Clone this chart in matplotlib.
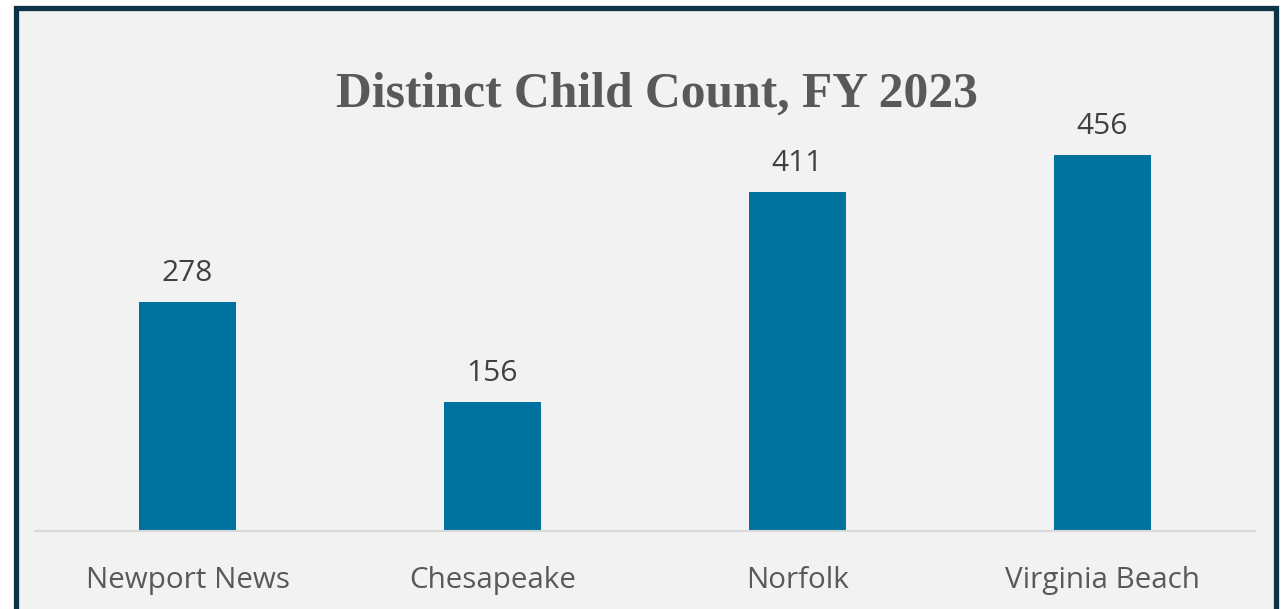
import matplotlib.pyplot as plt
from matplotlib.patches import Rectangle

# Chart data
cities = ['Newport News', 'Chesapeake', 'Norfolk', 'Virginia Beach']
counts = [278, 156, 411, 456]

W, H = 1282, 609
fig = plt.figure(figsize=(W / 100, H / 100), dpi=100)
fig.patch.set_facecolor('white')

# panel background and dark frame
fig.patches.append(Rectangle((15.5 / W, -0.05), (1275.5 - 15.5) / W, (H - 7.5) / H + 0.05,
                             transform=fig.transFigure, facecolor='#f2f2f2',
                             edgecolor='#0d3349', linewidth=3.8, zorder=-5))

ax = fig.add_axes([35 / W, 78 / H, 1220 / W, (531 - 118.7) / H])
ax.set_facecolor('none')
bars = ax.bar(range(len(cities)), counts, width=0.315, color='#0072a0', zorder=2)
ax.set_xlim(-0.5, len(cities) - 0.5)
ax.set_ylim(0, 500)

for b, v in zip(bars, counts):
    ax.annotate(str(v), (b.get_x() + b.get_width() / 2, v), xytext=(0, 10),
                textcoords='offset points', ha='center', va='bottom',
                fontsize=21.5, color='#404040', family='Open Sans')

for s in ['top', 'right', 'left']:
    ax.spines[s].set_visible(False)
ax.spines['bottom'].set_color('#d9d9d9')
ax.spines['bottom'].set_linewidth(1.5)
ax.set_yticks([])
ax.set_xticks(range(len(cities)))
ax.set_xticklabels(cities, fontsize=21.3, color='#595959', family='Open Sans')
ax.tick_params(axis='x', length=0, pad=25)

fig.text(657 / W, 1 - 95 / H, 'Distinct Child Count, FY 2023', ha='center', va='center',
         fontsize=35.7, fontweight='bold', color='#595959', family='Liberation Serif')

fig.savefig('out.png', dpi=100)
